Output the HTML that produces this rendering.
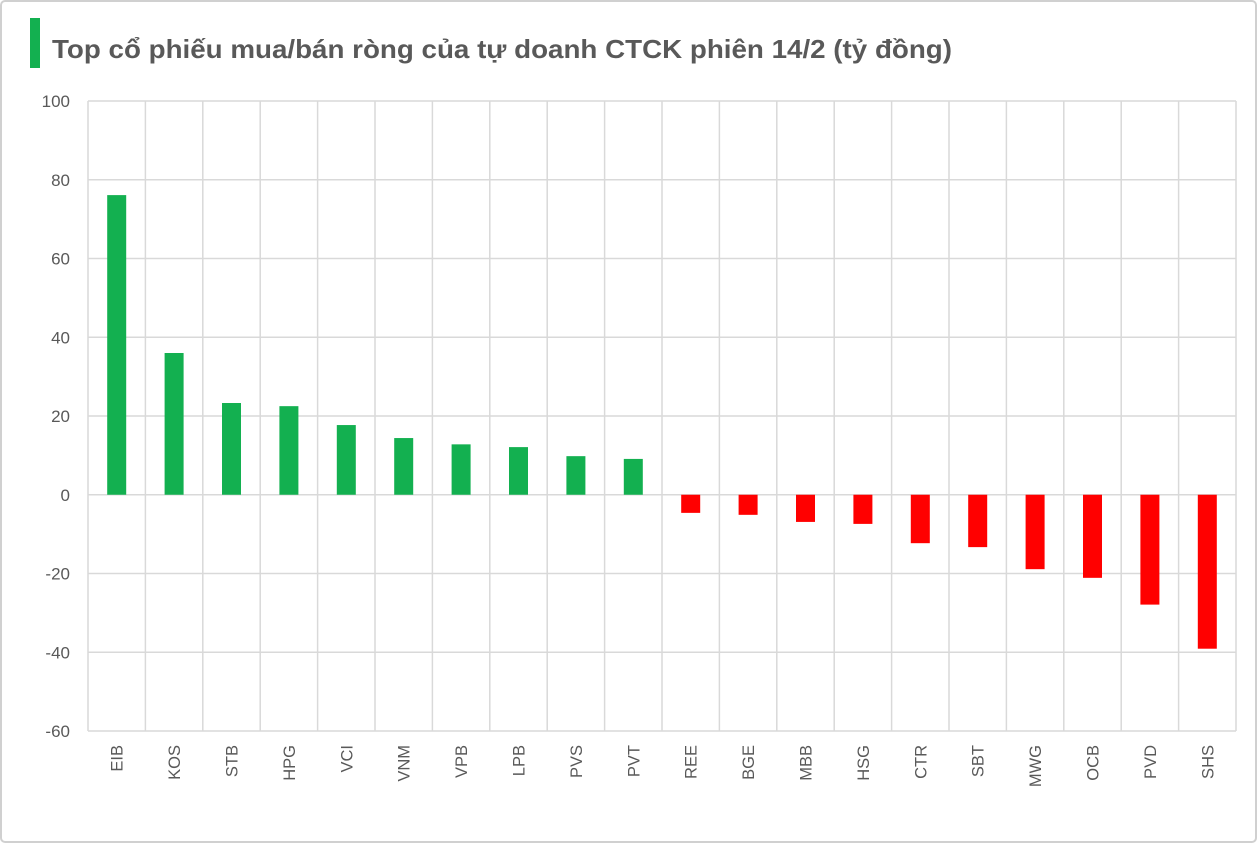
<!DOCTYPE html>
<html><head><meta charset="utf-8"><style>
body{margin:0;background:#fff;}
#wrap{position:relative;width:1258px;height:844px;overflow:hidden;}
svg text{font-family:"Liberation Sans",sans-serif;}
</style></head><body>
<div id="wrap">
<svg id="chart" width="1258" height="844">
<rect x="1" y="1" width="1255" height="841" rx="4" fill="#fff" stroke="#d0d0d0" stroke-width="2"/>
<rect x="30" y="18" width="10" height="50" fill="#13b050"/>
<text x="52" y="58" font-size="26" font-weight="bold" fill="#595959" textLength="900" lengthAdjust="spacingAndGlyphs">Top cổ phiếu mua/bán ròng của tự doanh CTCK phiên 14/2 (tỷ đồng)</text>
<g id="grid"></g><g id="bars"></g><g id="labels"></g>
</svg>
</div>
<script>
const categories=["EIB","KOS","STB","HPG","VCI","VNM","VPB","LPB","PVS","PVT","REE","BGE","MBB","HSG","CTR","SBT","MWG","OCB","PVD","SHS"];
const values=[76.1,36,23.3,22.5,17.7,14.4,12.8,12.1,9.8,9.1,-4.6,-5.1,-6.9,-7.4,-12.3,-13.3,-18.9,-21.1,-27.9,-39.1];
const yTicks=[100,80,60,40,20,0,-20,-40,-60];
const NS="http://www.w3.org/2000/svg";
const L=88,R=1236,T=101,B=731,yMax=100,yMin=-60;
const y=v=>T+(yMax-v)/(yMax-yMin)*(B-T);
const bw=(R-L)/categories.length;
const x=i=>L+i*bw;
function mk(tag,attrs,parent){const e=document.createElementNS(NS,tag);for(const k in attrs)e.setAttribute(k,attrs[k]);parent.appendChild(e);return e;}
const grid=document.getElementById('grid'),bars=document.getElementById('bars'),labels=document.getElementById('labels');
yTicks.forEach(t=>{
 const ln=mk('line',{x1:L,x2:R,y1:y(t),y2:y(t),stroke:'#d9d9d9','stroke-width':1.5},grid);
 
 
 const tx=mk('text',{x:70,y:y(t)+6,'text-anchor':'end','font-size':17,fill:'#595959'},labels);
 tx.textContent=t;
 
 
});
for(let i=0;i<=categories.length;i++){
 const ln=mk('line',{x1:x(i),x2:x(i),y1:T,y2:B,stroke:'#d9d9d9','stroke-width':1.5},grid);
 
 
}
categories.forEach((c,i)=>{
 const v=values[i];const cx=x(i)+bw/2;
 const r=mk('rect',{x:cx-9.5,width:19,y:Math.min(y(v),y(0)),height:Math.abs(y(v)-y(0)),fill:v>=0?'#13b050':'#ff0000'},bars);
 
 
 const tx=mk('text',{x:0,y:0,'text-anchor':'end','font-size':16.5,fill:'#595959',transform:`translate(${cx+6},745) rotate(-90)`},labels);
 tx.textContent=c;
 
 
});
</script>
</body></html>
